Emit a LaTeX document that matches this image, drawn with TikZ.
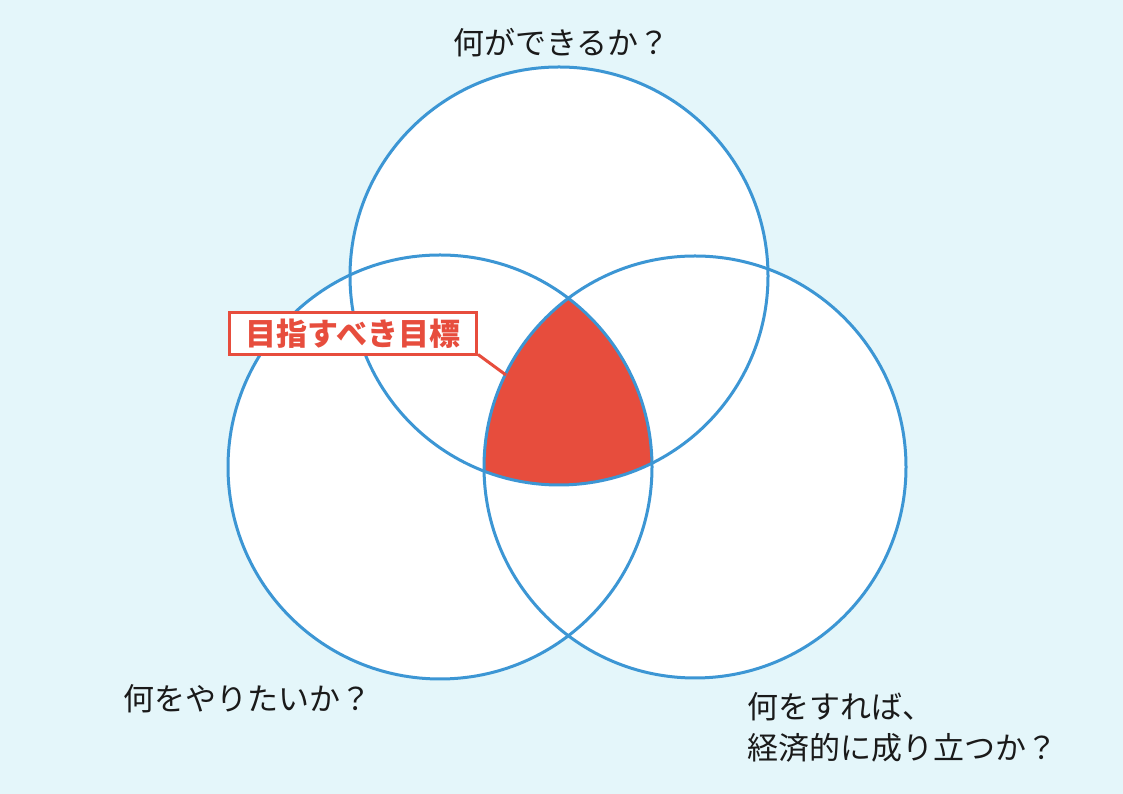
\documentclass[tikz,border=0pt]{standalone}
\usepackage{fontspec}
\setmainfont{Noto Sans CJK JP}
\usetikzlibrary{calc}
\definecolor{bgcol}{RGB}{228,246,250}
\definecolor{ringblue}{RGB}{60,150,212}
\definecolor{goalred}{RGB}{231,77,61}
\definecolor{textcol}{RGB}{26,26,26}
\tikzset{
  ring/.style={draw=ringblue, line width=3pt},
  question/.style={font=\fontsize{31pt}{41pt}\selectfont, text=textcol, inner sep=0pt},
  goalbox/.style={draw=goalred, line width=3pt, fill=white, text=goalred,
    font=\fontsize{31pt}{36pt}\selectfont\bfseries, minimum width=247pt, minimum height=42pt, inner sep=0pt},
  pointer/.style={draw=goalred, line width=3pt}
}
\begin{document}
\begin{tikzpicture}[x=1pt,y=1pt]
  \fill[bgcol] (0,0) rectangle (1123,794);
  \useasboundingbox (0,0) rectangle (1123,794);
  \coordinate (T) at (559,518);
  \coordinate (L) at (440,327);
  \coordinate (R) at (695,327);
  % white discs
  \fill[white] (T) circle[radius=209];
  \fill[white] (L) circle[radius=212];
  \fill[white] (R) circle[radius=211];
  % triple intersection
  \begin{scope}
    \clip (T) circle[radius=209];
    \clip (L) circle[radius=212];
    \fill[goalred] (R) circle[radius=211];
  \end{scope}
  % rings
  \draw[ring] (T) circle[radius=209];
  \draw[ring] (L) circle[radius=212];
  \draw[ring] (R) circle[radius=211];
  % labels
  \node[question] (can) at (561.5,751) {何ができるか？};
  \node[question, anchor=west] (want) at (123,95) {何をやりたいか？};
  \node[question, anchor=west, align=left] (pay) at (747,66.5) {何をすれば、\\経済的に成り立つか？};
  % goal label
  \coordinate (tip) at (506,419);
  \draw[pointer] (478,439.5) coordinate (corner) -- (tip);
  \node[goalbox] (goal) at (353,460.5) {目指すべき目標};
\end{tikzpicture}
\end{document}
